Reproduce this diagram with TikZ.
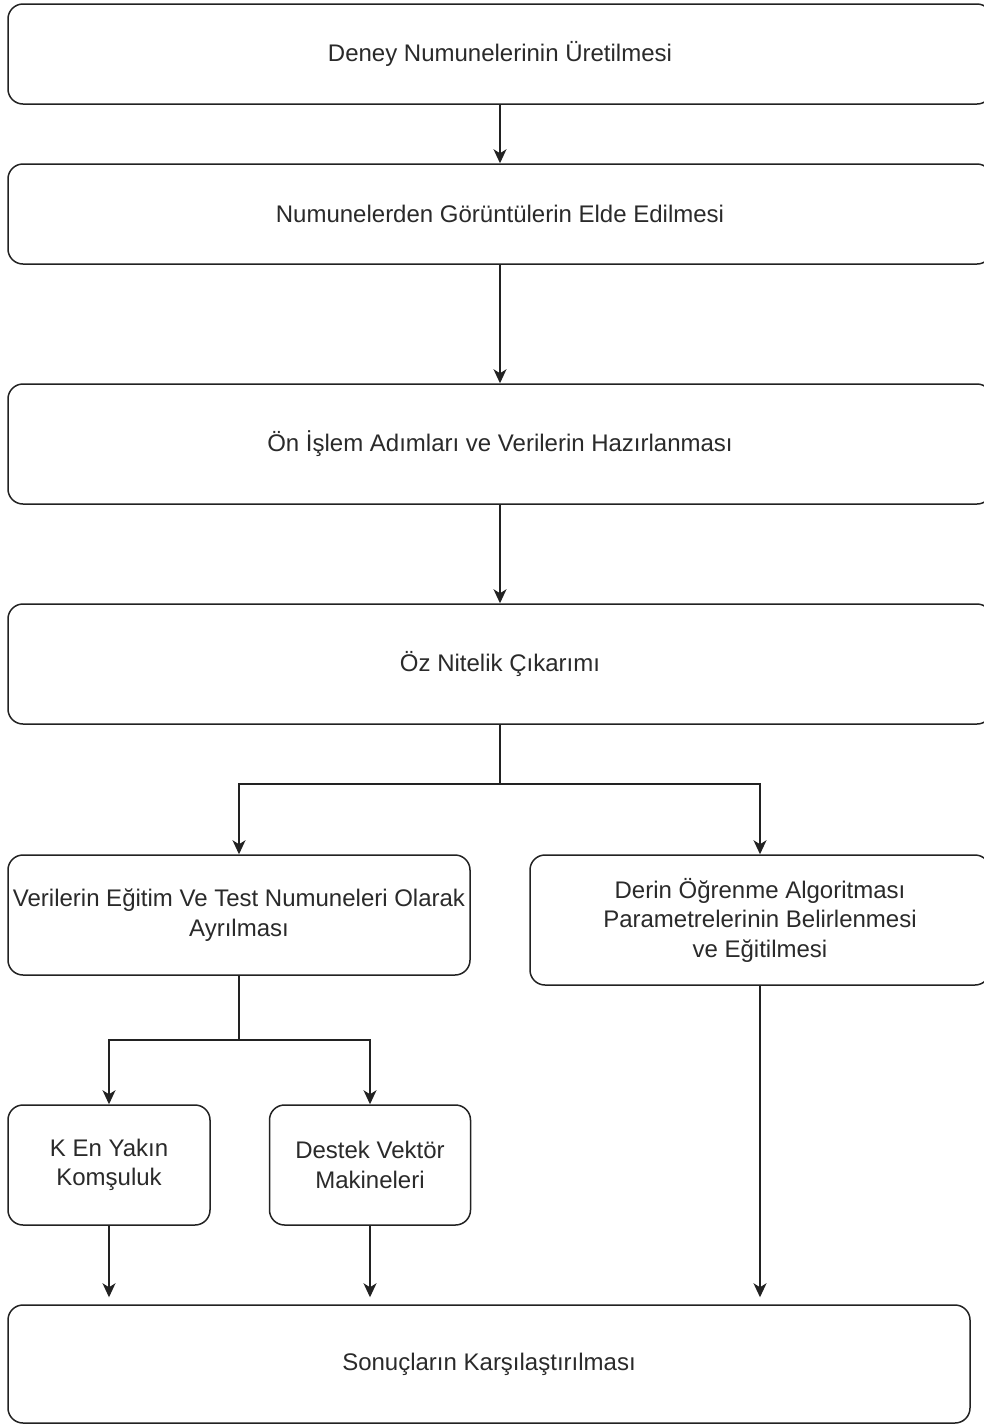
\documentclass[tikz,border=0pt]{standalone}
\usepackage{fontspec}
\setmainfont{Liberation Sans}
\usetikzlibrary{arrows.meta}
\definecolor{txt}{HTML}{2A2A2A}
\definecolor{ln}{HTML}{222222}
\tikzset{
  box/.style={draw=ln, line width=1.5pt, rounded corners=15pt, fill=white, inner sep=0pt,
    align=center, text=txt, font=\fontsize{24}{29.5}\selectfont},
  arr/.style={draw=ln, line width=1.5pt, -{Stealth[length=14pt,width=13pt,inset=4pt]}},
  ln/.style={draw=ln, line width=1.5pt}
}
\begin{document}
\begin{tikzpicture}[x=1pt,y=-1pt]
\useasboundingbox (0,0) rectangle (984,1425);
\clip (0,0) rectangle (984,1425);
\node[box, minimum width=984pt, minimum height=100pt] (b1) at (500,54) {Deney Numunelerinin Üretilmesi};
\node[box, minimum width=984pt, minimum height=100pt] (b2) at (500,214) {Numunelerden Görüntülerin Elde Edilmesi};
\node[box, minimum width=984pt, minimum height=120pt] (b3) at (500,444) {Ön İşlem Adımları ve Verilerin Hazırlanması};
\node[box, minimum width=984pt, minimum height=120pt] (b4) at (500,664) {Öz Nitelik Çıkarımı};
\node[box, minimum width=462pt, minimum height=120pt] (b5) at (239,915) {Verilerin Eğitim Ve Test Numuneleri Olarak\\Ayrılması};
\node[box, minimum width=460pt, minimum height=130pt] (b6) at (760,920) {Derin Öğrenme Algoritması\\Parametrelerinin Belirlenmesi\\ve Eğitilmesi};
\node[box, minimum width=202pt, minimum height=120pt] (b7) at (109,1165) {K En Yakın\\Komşuluk};
\node[box, minimum width=201pt, minimum height=120pt] (b8) at (370,1165) {Destek Vektör\\Makineleri};
\node[box, minimum width=962pt, minimum height=118pt] (b9) at (489,1364) {Sonuçların Karşılaştırılması};
\draw[arr] (b1) -- (b2);
\draw[arr] (b2) -- (b3);
\draw[arr] (b3) -- (b4);
\coordinate (j1) at (500,784);
\draw[ln] (b4.south) -- (j1);
\draw[arr] (j1) -| (b5.north);
\draw[arr] (j1) -| (b6.north);
\coordinate (j2) at (239,1040);
\draw[ln] (b5.south) -- (j2);
\draw[arr] (j2) -| (b7.north);
\draw[arr] (j2) -| (b8.north);
\draw[arr, shorten >=7pt] (b7.south) -- (b7.south |- b9.north);
\draw[arr, shorten >=7pt] (b8.south) -- (b8.south |- b9.north);
\draw[arr, shorten >=7pt] (b6.south) -- (b6.south |- b9.north);
\end{tikzpicture}
\end{document}
